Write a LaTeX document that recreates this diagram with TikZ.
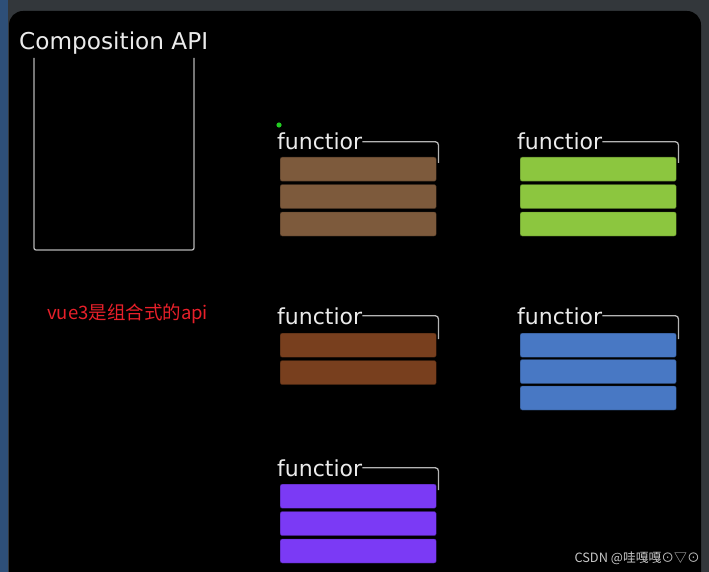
\documentclass[tikz,border=0pt]{standalone}
\usepackage{fontspec}
\usepackage{tikz}
\usetikzlibrary{positioning,calc}
\newfontfamily\uifont{DejaVu Sans}
\newfontfamily\cjkfont{Noto Sans CJK SC}
\definecolor{frame}{HTML}{33373B}
\definecolor{sidebar}{HTML}{2E4F78}
\definecolor{linegray}{HTML}{B4B4B4}
\definecolor{mocha}{HTML}{7D5A3C}
\definecolor{lime}{HTML}{8CC63F}
\definecolor{rust}{HTML}{783F1E}
\definecolor{steel}{HTML}{4878C4}
\definecolor{violet}{HTML}{7B3AF5}
\definecolor{dotgreen}{HTML}{22CC22}
\definecolor{notered}{HTML}{E8202A}
\tikzset{
  fnlabel/.style={
    anchor=base west, inner sep=0pt,
    font=\uifont\fontsize{22}{24}\selectfont, text=white!92!black
  },
  fnbar/.style={
    rectangle, rounded corners=2pt, fill=#1, draw=#1!55!black,
    minimum width=156pt, minimum height=24pt, inner sep=0pt
  },
  fnbar/.default=mocha,
  bracket/.style={
    draw=linegray, line width=1.3pt, rounded corners=3pt
  },
}

\begin{document}
\begin{tikzpicture}[x=1pt, y=-1pt]
  \useasboundingbox (0,0) rectangle (709,572);
  % window
  \fill[frame] (0,0) rectangle (709,572);
  \fill[sidebar] (0,0) rectangle (8,572);
  \fill[black, rounded corners=14pt] (9,11) rectangle (701,590);

  % Composition API
  \node[anchor=base west, inner sep=0pt, text=white!92!black,
        font=\uifont\fontsize{23.2}{25}\selectfont] (api) at (19,50) {Composition API};
  \draw[bracket, rounded corners=2pt] (34,58) -- (34,250) -- (194,250) -- (194,58);
  \node[anchor=base west, inner sep=0pt, text=notered,
        font=\cjkfont\fontsize{18.5}{20}\selectfont] (note) at (47,319) {vue3是组合式的api};

  % column 1
  \fill[dotgreen] (279,125) circle (2.6pt);
  \node[fnlabel] (f1) at (277,150) {functior};
  \node[fnbar=mocha, anchor=north west] (f1a) at (280,157) {};
  \node[fnbar=mocha, below=3pt of f1a] (f1b) {};
  \node[fnbar=mocha, below=3pt of f1b] (f1c) {};
  \draw[bracket] (f1.east) -| ($(f1a.north east)+(2,6)$);

  \node[fnlabel] (f3) at (277,324) {functior};
  \node[fnbar=rust, anchor=north west] (f3a) at (280,333) {};
  \node[fnbar=rust, below=3pt of f3a] (f3b) {};
  \draw[bracket] (f3.east) -| ($(f3a.north east)+(2,6)$);

  \node[fnlabel] (f5) at (277,476) {functior};
  \node[fnbar=violet, anchor=north west] (f5a) at (280,484) {};
  \node[fnbar=violet, below=3pt of f5a] (f5b) {};
  \node[fnbar=violet, below=3pt of f5b] (f5c) {};
  \draw[bracket] (f5.east) -| ($(f5a.north east)+(2,6)$);

  % column 2
  \node[fnlabel] (f2) at (517,150) {functior};
  \node[fnbar=lime, anchor=north west] (f2a) at (520,157) {};
  \node[fnbar=lime, below=3pt of f2a] (f2b) {};
  \node[fnbar=lime, below=3pt of f2b] (f2c) {};
  \draw[bracket] (f2.east) -| ($(f2a.north east)+(2,6)$);

  \node[fnlabel] (f4) at (517,324) {functior};
  \node[fnbar=steel, anchor=north west] (f4a) at (520,333) {};
  \node[fnbar=steel, below=2pt of f4a] (f4b) {};
  \node[fnbar=steel, below=2pt of f4b] (f4c) {};
  \draw[bracket] (f4.east) -| ($(f4a.north east)+(2,6)$);

  % watermark
  \node[anchor=base east, inner sep=0pt, text=white!78!black,
        font=\cjkfont\fontsize{12.8}{14}\selectfont] (mark) at (700,562) {CSDN @哇嘎嘎⊙▽⊙};
\end{tikzpicture}
\end{document}
